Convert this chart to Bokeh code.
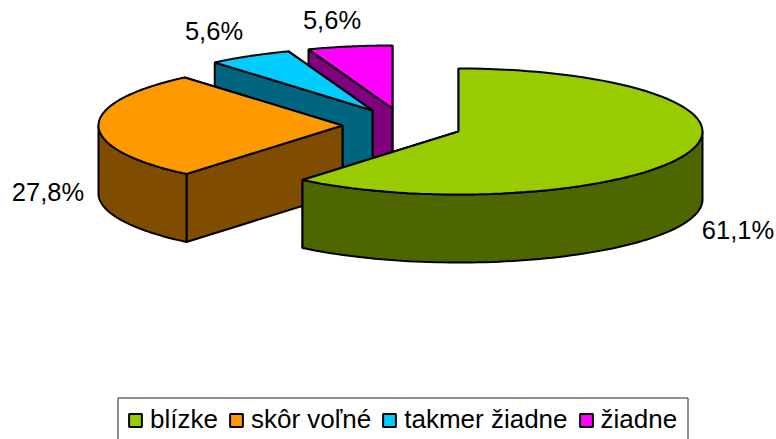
import numpy as np
from bokeh.plotting import figure
from bokeh.models import Range1d, Legend, LegendItem
from bokeh.core.properties import value
from bokeh.embed import file_html
from bokeh.resources import INLINE

categories = ["blízke", "skôr voľné", "takmer žiadne", "žiadne"]
values = [61.1, 27.8, 5.6, 5.6]
top_colors = ["#99CC00", "#FF9900", "#00CCFF", "#FF00FF"]
side_colors = ["#4D6600", "#804D00", "#006680", "#800080"]
# exploded slice apex positions on the page
apex_x = [458, 342, 372, 392]
apex_y = [131, 125, 110, 108]
label_x = [737.5, 47.5, 213.5, 331.5]
label_y = [229, 191, 30, 19.5]

RX, RY, DEPTH = 244, 63, 68
W, H = 776, 439
FONT = "Liberation Sans"

p = figure(width=W, height=H, x_range=Range1d(0, W), y_range=Range1d(H, 0),
           toolbar_location=None, output_backend="svg", min_border=0,
           background_fill_color="white", border_fill_color="white")
p.axis.visible = False
p.grid.visible = False
p.outline_line_color = None
p.styles = {"position": "absolute", "left": "0px", "top": "0px"}

fractions = np.array(values) / sum(values)
ends = np.cumsum(fractions) * 2 * np.pi
starts = ends - fractions * 2 * np.pi


def arc(cx, cy, a0, a1, n=80):
    t = np.linspace(a0, a1, n)
    return cx + RX * np.sin(t), cy - RY * np.cos(t)


def wall(px, py, fill):
    xs = list(px) + list(px[::-1])
    ys = list(py) + [y + DEPTH for y in py[::-1]]
    p.patch(xs, ys, fill_color=fill, line_color="black", line_width=2)


order = [3, 2, 1, 0]  # back slices first
tops = {}
for i in order:
    cx, cy, a0, a1 = apex_x[i], apex_y[i], starts[i], ends[i]
    # cut faces, farthest first
    faces = []
    for a in (a0, a1):
        ex, ey = arc(cx, cy, a, a, 1)
        faces.append(([cx, ex[0]], [cy, ey[0]]))
    faces.sort(key=lambda f: f[1][0] + f[1][1])
    for fx, fy in faces:
        wall(fx, fy, side_colors[i])
    # outer wall, front half only
    w0, w1 = max(a0, np.pi / 2), min(a1, 3 * np.pi / 2)
    if w1 > w0:
        wx, wy = arc(cx, cy, w0, w1)
        wall(wx, wy, side_colors[i])
    # top face
    tx, ty = arc(cx, cy, a0, a1)
    tops[i] = p.patch([cx] + list(tx), [cy] + list(ty), fill_color=top_colors[i],
                      line_color="black", line_width=2)

labels = [f"{v:.1f}%".replace(".", ",") for v in values]
p.text(label_x, label_y, text=labels, text_font=value(FONT), text_font_size="25.5px",
       text_align="center", text_baseline="middle", text_color="black")

# legend frame: runs off the bottom of the picture, as in the reference
p.quad(left=[117.5], right=[687.5], top=[397.5], bottom=[446],
       fill_color="white", line_color="#222222", line_width=1)

legend = Legend(
    items=[LegendItem(label=c, renderers=[tops[i]]) for i, c in enumerate(categories)],
    orientation="horizontal", location=(127, 4), margin=0, spacing=10,
    glyph_width=16, glyph_height=16, label_standoff=7,
    label_text_font=FONT, label_text_font_size="26px", label_text_color="black",
    label_text_line_height=1.0,
    border_line_color=None, background_fill_alpha=0,
)
p.add_layout(legend, "center")

open("out.html", "w").write(file_html(p, INLINE))
